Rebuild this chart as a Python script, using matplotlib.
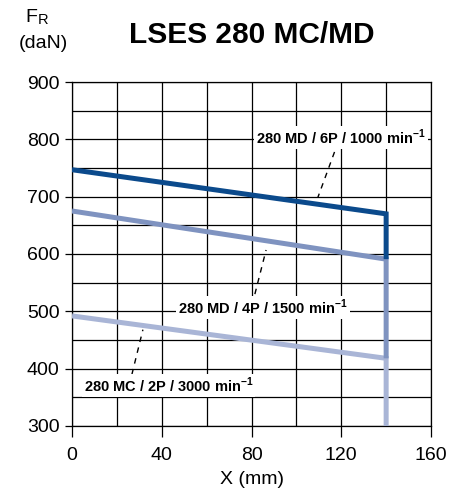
import matplotlib
matplotlib.use("Agg")
import matplotlib.pyplot as plt

plt.rcParams['font.family'] = ['Liberation Sans Narrow', 'Liberation Sans', 'DejaVu Sans']
plt.rcParams['mathtext.fontset'] = 'custom'
plt.rcParams['mathtext.rm'] = 'Liberation Sans'
plt.rcParams['mathtext.bf'] = 'Liberation Sans:bold'

# Data
series_names = ["280 MC / 2P / 3000 min", "280 MD / 4P / 1500 min", "280 MD / 6P / 1000 min"]
x_points = [0, 140, 140]
fr_2p = [492, 418, 300]
fr_4p = [675, 591, 418]
fr_6p = [747, 670, 591]
colors = ["#a9b5d6", "#7f93c0", "#0b4a8c"]
x_ticks = [0, 40, 80, 120, 160]
y_ticks = [300, 400, 500, 600, 700, 800, 900]

fig = plt.figure(figsize=(4.6, 4.97), dpi=100)
ax = fig.add_axes([0.1565, 0.1429, 0.937 - 0.1565, 0.835 - 0.1429])

ax.set_xlim(0, 160)
ax.set_ylim(300, 900)

# grid
for gx in range(0, 161, 20):
    ax.axvline(gx, color='black', lw=0.9, zorder=1)
for gy in range(300, 901, 50):
    ax.axhline(gy, color='black', lw=0.9, zorder=1)

for vals, c in zip([fr_2p, fr_4p, fr_6p], colors):
    ax.plot(x_points, vals, color=c, lw=3.6, solid_joinstyle='miter',
            solid_capstyle='butt', zorder=3)

ax.set_xticks(x_ticks)
ax.set_yticks(y_ticks)
ax.tick_params(axis='x', length=8, width=0.9, labelsize=14, pad=7)
ax.tick_params(axis='y', length=5, width=0.9, labelsize=14, pad=4)
for s in ax.spines.values():
    s.set_linewidth(0.9)

ax.set_xlabel("X (mm)", fontsize=14, labelpad=5)

# labels with leaders
lab_kw = dict(fontsize=10.5, fontweight='bold', ha='center', va='center', zorder=5,
              bbox=dict(facecolor='white', edgecolor='none', pad=1.5))
labels = [
    (series_names[2], 120, 803, (117, 778), (109.6, 699)),
    (series_names[1], 85, 507, (81.5, 530), (86.5, 607)),
    (series_names[0], 43, 371, (26.7, 390), (31.6, 468)),
]
for txt, lx, ly, p1, p2 in labels:
    ax.text(lx, ly, txt + r"$^{\mathbf{-1}}$", **lab_kw)
    ax.plot([p1[0], p2[0]], [p1[1], p2[1]], color='black', lw=1,
            linestyle=(0, (4, 4)), zorder=4)

fig.text(0.548, 0.930, "LSES 280 MC/MD", fontsize=21.5, fontweight='bold',
         ha='center', va='center')
fig.text(0.081, 0.964, "F", fontsize=14, ha='right', va='center')
fig.text(0.081, 0.960, "R", fontsize=10.5, ha='left', va='center')
fig.text(0.094, 0.913, "(daN)", fontsize=14, ha='center', va='center')

fig.savefig("out.png", dpi=100)
